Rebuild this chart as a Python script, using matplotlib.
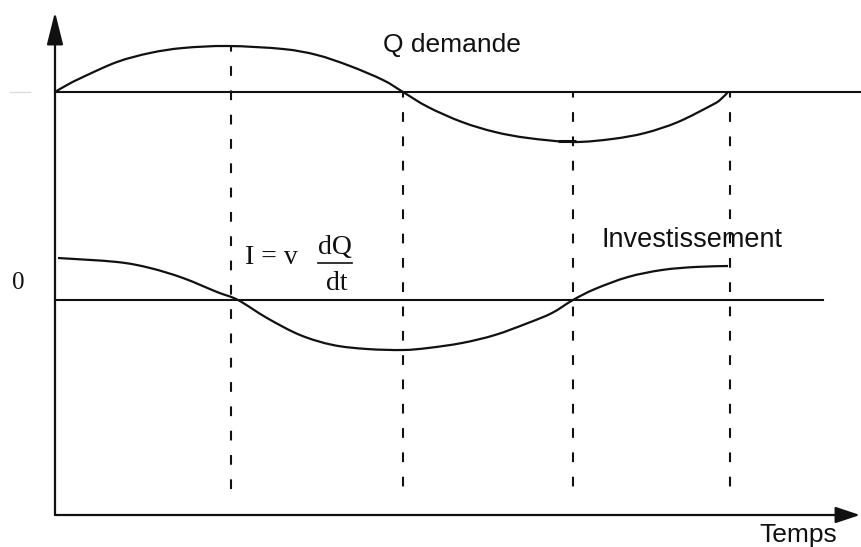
import numpy as np
import matplotlib
matplotlib.use("Agg")
import matplotlib.pyplot as plt
from matplotlib.path import Path
from matplotlib.patches import PathPatch

plt.rcParams['lines.scale_dashes'] = False

# demand Q (height above its mean line)
t_q = [0, 12, 28, 62, 95, 128, 173, 228, 262, 295, 328, 348,
       373, 407, 440, 473, 518, 557, 590, 623, 657, 665, 673]
q = [0, 7, 15, 30, 39, 44, 46, 43, 37, 26, 12, 0,
     -15, -30, -40, -46, -50, -47, -41, -30, -13, -8, 0]

# investment I = v dQ/dt
t_i = [3, 62, 95, 128, 162, 183, 212, 245, 278, 312, 348, 373,
       407, 440, 473, 497, 518, 540, 573, 607, 640, 673]
inv = [42, 38, 32, 22, 8, 0, -18, -35, -45, -49, -50, -48,
       -43, -35, -23, -13, 0, 11, 23, 30, 33, 34]

# turning points / zero crossings (dashed guides)
t_marks = [176, 348, 518, 675]

labels = {"q": "Q demande", "i": "Investissement", "t": "Temps", "zero": "0"}

# layout (1 unit = 1 px)
q_level = 208      # mean demand line
x_axis = -215      # time axis
y_top = 288        # tip of vertical arrow
guide_bottom = -200
ink = "#111111"
sans = "Liberation Sans"
serif = "Liberation Serif"


def smooth_path(xs, ys):
    # bezier curve through the read points (Catmull-Rom handles)
    p = np.column_stack([xs, ys]).astype(float)
    verts = [p[0]]
    codes = [Path.MOVETO]
    n = len(p)
    for j in range(n - 1):
        p0 = p[j - 1] if j > 0 else p[j]
        p3 = p[j + 2] if j + 2 < n else p[j + 1]
        c1 = p[j] + (p[j + 1] - p0) / 6.0
        c2 = p[j + 1] - (p3 - p[j]) / 6.0
        verts += [c1, c2, p[j + 1]]
        codes += [Path.CURVE4] * 3
    return Path(verts, codes)


fig = plt.figure(figsize=(8.61, 5.47), dpi=100)
ax = fig.add_axes([0, 0, 1, 1])
ax.set_xlim(-55, 806)
ax.set_ylim(-247, 300)
ax.axis("off")

# axes with arrows
ax.annotate("", xy=(0, y_top), xytext=(0, x_axis),
            arrowprops=dict(arrowstyle="-|>,head_length=1.0,head_width=0.25",
                            mutation_scale=20, lw=1.6, color=ink,
                            shrinkA=0, shrinkB=0))
ax.annotate("", xy=(805, x_axis), xytext=(0, x_axis),
            arrowprops=dict(arrowstyle="-|>,head_length=0.75,head_width=0.25",
                            mutation_scale=20, lw=1.6, color=ink,
                            shrinkA=0, shrinkB=0))

# reference lines
ax.plot([0, 806], [q_level, q_level], color=ink, lw=1.5)
ax.plot([-45, -25], [q_level, q_level], color="#dddddd", lw=1.0)
ax.plot([0, 768], [0, 0], color=ink, lw=1.5)

# curves
q_arr = np.array(q)
ax.add_patch(PathPatch(smooth_path(t_q, q_level + q_arr), fill=False,
                       edgecolor=ink, lw=1.6))
ax.add_patch(PathPatch(smooth_path(t_i, inv), fill=False,
                       edgecolor=ink, lw=1.6))
k = int(np.argmin(q_arr))
ax.plot([t_q[k] - 6], [q_level + q_arr[k] + 1], marker="_", markersize=13,
        mew=2.2, color=ink)

# dashed guides
for tm in t_marks:
    top = q_level + max(np.interp(tm, t_q, q), 0)
    ax.plot([tm, tm], [top, guide_bottom], color=ink, lw=1.5,
            linestyle=(3, (7, 10.5)))

# texts
ax.text(328, 255, labels["q"], fontsize=19, family=sans, ha="left",
        va="center", color=ink)
ax.text(547, 60, labels["i"], fontsize=19.5, family=sans, ha="left",
        va="center", color=ink)
ax.text(782, -235, labels["t"], fontsize=19, family=sans, ha="right",
        va="center", color=ink)
ax.text(-37, 17, labels["zero"], fontsize=18, family=serif, ha="center",
        va="center", color=ink)

ax.text(190, 42, "I = v", fontsize=20, family=serif, ha="left",
        va="center", color=ink)
ax.text(280, 52, "dQ", fontsize=20, family=serif, ha="center",
        va="center", color=ink)
ax.text(282, 16, "dt", fontsize=20, family=serif, ha="center",
        va="center", color=ink)
ax.plot([263, 297], [37, 37], color=ink, lw=1.2)

fig.savefig("out.png", dpi=100, facecolor="white")
